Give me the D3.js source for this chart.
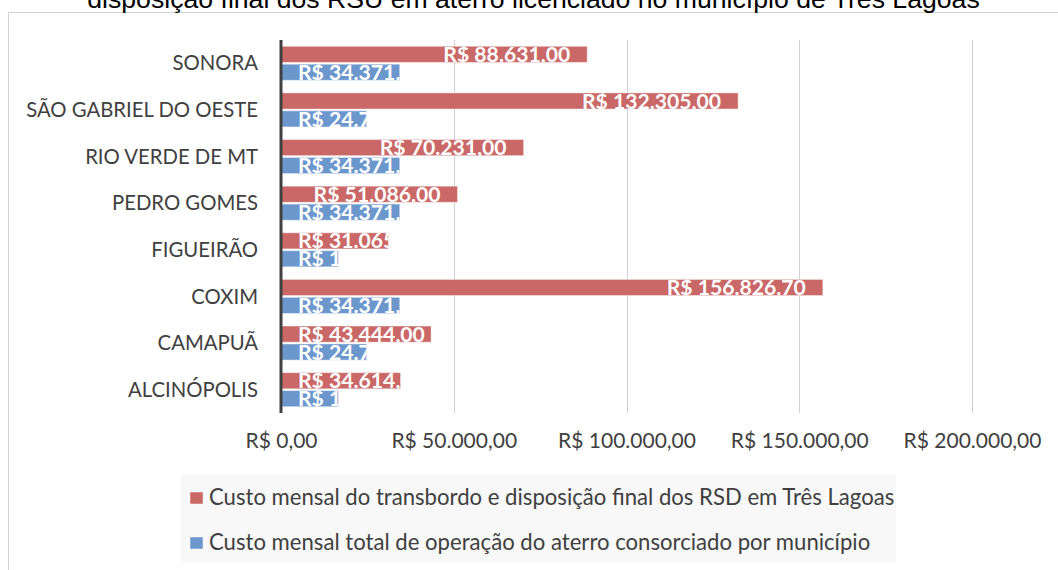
<!DOCTYPE html>
<html>
<head>
<meta charset="utf-8">
<script src="https://cdn.jsdelivr.net/npm/d3@7"></script>
<style>
  body { margin: 0; background: #fff; }
  svg { display: block; }
</style>
</head>
<body>
<div id="chart"></div>
<script>
// municipios, de cima para baixo
const categories = ["SONORA", "SÃO GABRIEL DO OESTE", "RIO VERDE DE MT", "PEDRO GOMES", "FIGUEIRÃO", "COXIM", "CAMAPUÃ", "ALCINÓPOLIS"]
const custoTresLagoas = [88631.00, 132305.00, 70231.00, 51086.00, 31065.00, 156826.70, 43444.00, 34614.00]
const custoConsorcio = [34371.00, 24758.00, 34371.00, 34371.00, 16600.00, 34371.00, 24758.00, 16600.00]
const xTicks = [0, 50000, 100000, 150000, 200000]
const seriesNames = [
  "Custo mensal do transbordo e disposição final dos RSD em Três Lagoas",
  "Custo mensal total de operação do aterro consorciado por município"
]
const seriesKeys = ["tl", "cons"]
const seriesColors = ["#c96867", "#6b97cd"]
const title = "disposição final dos RSU em aterro licenciado no município de Três Lagoas"

const width = 1058, height = 570
const font = "Lato, 'Open Sans', sans-serif"

const brl = d3.formatLocale({decimal: ",", thousands: ".", grouping: [3], currency: ["R$ ", ""]})
const money = brl.format("$,.2f")

const rows = categories.map((c, i) => ({name: c, tl: custoTresLagoas[i], cons: custoConsorcio[i]}))

const svg = d3.select("#chart").append("svg")
    .attr("width", width)
    .attr("height", height)

// caixa do grafico
svg.append("path")
    .attr("d", `M8.5,${height}V12.5H${width}`)
    .attr("fill", "none")
    .attr("stroke", "#d0d0d0")

// ajusta o tamanho da fonte para uma largura medida
function fitSize(sel, target) {
  const w = sel.node().getComputedTextLength()
  const fs = parseFloat(sel.attr("font-size"))
  return fs * target / w
}

const titleText = svg.append("text")
    .attr("x", 533.5)
    .attr("y", 8)
    .attr("text-anchor", "middle")
    .attr("font-family", "'Liberation Sans', Arial, sans-serif")
    .attr("font-size", 24)
    .attr("fill", "#000")
    .text(title)
titleText.attr("font-size", fitSize(titleText, 893))

const x = d3.scaleLinear()
    .domain([0, 200000])
    .range([281, 972])
const y = d3.scaleBand()
    .domain(categories)
    .range([40, 413])
const sub = d3.scaleBand()
    .domain(seriesKeys)
    .range([0, y.bandwidth()])
    .paddingInner(0.1)
    .paddingOuter(0.35)

// grade vertical
svg.append("g")
    .attr("stroke", "#d0d0d0")
  .selectAll("line")
  .data(xTicks.slice(1))
  .join("line")
    .attr("x1", d => Math.round(x(d)) + 0.5)
    .attr("x2", d => Math.round(x(d)) + 0.5)
    .attr("y1", y.range()[0])
    .attr("y2", y.range()[1])

// eixo x (somente rotulos)
const xAxis = svg.append("g")
    .attr("transform", `translate(0,${y.range()[1]})`)
    .call(d3.axisBottom(x).tickValues(xTicks).tickFormat(money).tickSize(0).tickPadding(0))
xAxis.select(".domain").remove()
xAxis.selectAll("text")
    .attr("font-family", font)
    .attr("font-size", 20)
    .attr("fill", "#404040")
    .attr("y", 35)
    .attr("dy", 0)
const tickSize = fitSize(xAxis.selectAll("text").filter(d => d === 200000), 138)
xAxis.selectAll("text").attr("font-size", tickSize)

// eixo y (rotulos)
const yAxis = svg.append("g")
    .attr("transform", `translate(258,0)`)
    .call(d3.axisLeft(y).tickSize(0).tickPadding(0))
yAxis.select(".domain").remove()
yAxis.selectAll("text")
    .attr("font-family", font)
    .attr("font-size", 20)
    .attr("fill", "#404040")
    .attr("dy", "0.35em")
const catSize = fitSize(yAxis.selectAll("text").filter(d => d === "SÃO GABRIEL DO OESTE"), 232)
yAxis.selectAll("text").attr("font-size", catSize)

// barras
const bars = []
rows.forEach((r, i) => {
  seriesKeys.forEach((k, j) => {
    bars.push({id: `b${i}_${j}`, name: r.name, key: k, value: r[k], color: seriesColors[j]})
  })
})

const defs = svg.append("defs")
defs.selectAll("clipPath")
  .data(bars)
  .join("clipPath")
    .attr("id", d => d.id)
  .append("rect")
    .attr("x", x(0))
    .attr("y", d => y(d.name) + sub(d.key))
    .attr("width", d => x(d.value) - x(0))
    .attr("height", sub.bandwidth())

svg.append("g")
  .selectAll("rect")
  .data(bars)
  .join("rect")
    .attr("x", x(0))
    .attr("y", d => y(d.name) + sub(d.key))
    .attr("width", d => x(d.value) - x(0))
    .attr("height", sub.bandwidth())
    .attr("fill", d => d.color)
    .attr("stroke", "rgba(255,255,255,0.45)")
    .attr("stroke-width", 1)

// rotulos de dados (cortados na barra)
const pad = 17
const labels = svg.append("g")
  .selectAll("text")
  .data(bars)
  .join("text")
    .attr("clip-path", d => `url(#${d.id})`)
    .attr("font-family", font)
    .attr("font-weight", "bold")
    .attr("font-size", 20)
    .attr("fill", "#fff")
    .attr("text-anchor", "end")
    .attr("y", d => y(d.name) + sub(d.key) + sub.bandwidth() / 2)
    .attr("dy", "0.36em")
    .text(d => money(d.value))
const labSize = fitSize(labels.filter(d => d.value === 51086), 127)
labels.attr("font-size", labSize)
labels.attr("x", function(d) {
  const w = this.getComputedTextLength()
  return Math.max(x(d.value) - pad, x(0) + pad + w)
})

// linha do eixo vertical
svg.append("line")
    .attr("x1", x(0))
    .attr("x2", x(0))
    .attr("y1", y.range()[0])
    .attr("y2", y.range()[1])
    .attr("stroke", "#404040")
    .attr("stroke-width", 3)

// legenda
const legend = svg.append("g")
legend.append("rect")
    .attr("x", 181)
    .attr("y", 475)
    .attr("width", 715)
    .attr("height", 87)
    .attr("fill", "#f8f8f8")

const item = legend.selectAll("g")
  .data(seriesNames)
  .join("g")
    .attr("transform", (d, i) => `translate(190,${492 + i * 45})`)
item.append("rect")
    .attr("width", 13)
    .attr("height", 12)
    .attr("fill", (d, i) => seriesColors[i])
    .attr("stroke", "rgba(255,255,255,0.45)")
const legText = item.append("text")
    .attr("x", 19)
    .attr("y", 13)
    .attr("font-family", font)
    .attr("font-size", 20)
    .attr("fill", "#404040")
    .text(d => d)
const legSize = fitSize(legText.filter((d, i) => i === 0), 686)
legText.attr("font-size", legSize)
</script>
</body>
</html>
